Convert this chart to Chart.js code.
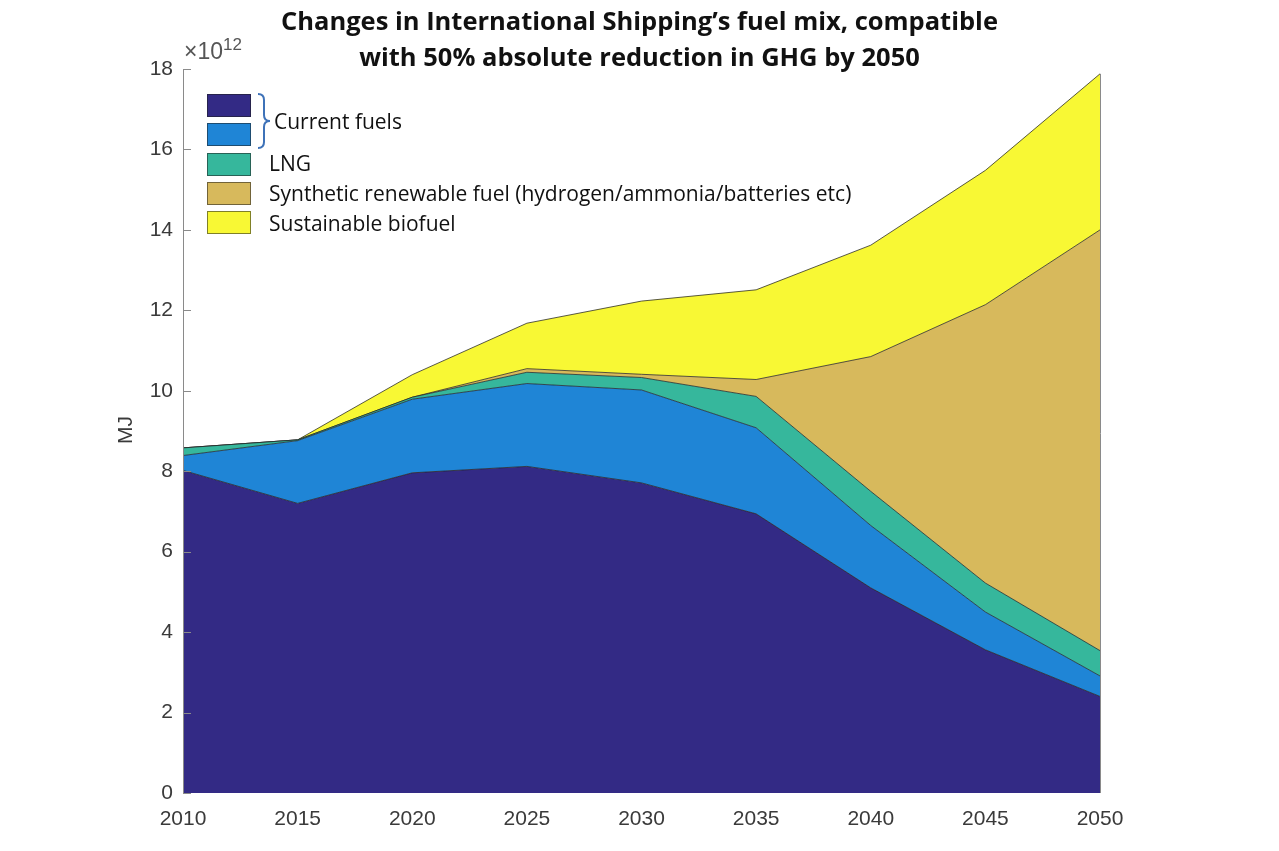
<!DOCTYPE html>
<html lang="en">
<head>
    <meta charset="UTF-8">
    <title>International Shipping fuel mix</title>
    <script src="https://cdn.jsdelivr.net/npm/chart.js"></script>
    <style>
        body {
            margin: 0;
            background: #fff;
        }

        .wrap {
            position: relative;
            width: 1279px;
            height: 851px;
        }

        .title {
            position: absolute;
            left: 0;
            top: 2px;
            width: 1279px;
            text-align: center;
            font-family: "Open Sans", sans-serif;
            font-weight: bold;
            font-size: 25.5px;
            line-height: 36px;
            color: #111;
        }

        .exp {
            position: absolute;
            left: 184px;
            top: 35px;
            font-family: "Liberation Sans", sans-serif;
            font-size: 23px;
            color: #555;
        }

        .exp sup {
            font-size: 17px;
        }

        .ylab {
            position: absolute;
            left: 105px;
            top: 418px;
            width: 40px;
            text-align: center;
            transform: rotate(-90deg);
            font-family: "Liberation Sans", sans-serif;
            font-size: 21px;
            color: #3a3a3a;
        }

        .legend .sw {
            position: absolute;
            left: 207px;
            width: 44px;
            height: 23px;
            border: 1px solid rgba(30, 30, 30, 0.55);
            box-sizing: border-box;
        }

        .legend .lb {
            position: absolute;
            font-family: "Open Sans", sans-serif;
            font-size: 21px;
            color: #111;
            line-height: 24px;
        }

        .bracket {
            position: absolute;
            left: 256px;
            top: 92px;
        }
    </style>
</head>
<body>
<div class="wrap">
    <canvas id="fuelChart" width="1279" height="851"></canvas>

    <div class="title">Changes in International Shipping’s fuel mix, compatible<br>with 50% absolute reduction in GHG by 2050</div>
    <div class="exp">×10<sup>12</sup></div>
    <div class="ylab">MJ</div>

    <div class="legend">
        <div class="sw" style="top:94px;background:#332a85"></div>
        <div class="sw" style="top:123px;background:#1f85d6"></div>
        <div class="sw" style="top:153px;background:#36b79c"></div>
        <div class="sw" style="top:182px;background:#d7b95c"></div>
        <div class="sw" style="top:211px;background:#f8f834"></div>

        <svg class="bracket" width="20" height="58">
            <path d="M2 2 Q8 2 8 8 L8 23 Q8 29 14 29 Q8 29 8 35 L8 50 Q8 56 2 56" fill="none" stroke="#3e72b8" stroke-width="2"/>
        </svg>
        <div class="lb" style="left:274px;top:109px">Current fuels</div>
        <div class="lb" style="left:269px;top:151px">LNG</div>
        <div class="lb" style="left:269px;top:181px">Synthetic renewable fuel (hydrogen/ammonia/batteries etc)</div>
        <div class="lb" style="left:269px;top:211px">Sustainable biofuel</div>
    </div>
</div>

<script>
    // years on the x axis
    var years = ['2010', '2015', '2020', '2025', '2030', '2035', '2040', '2045', '2050'];

    // MJ (x10^12), stacked from the bottom
    var currentFuelsA = [8.02, 7.2, 7.96, 8.12, 7.71, 6.94, 5.1, 3.56, 2.4];
    var currentFuelsB = [0.37, 1.56, 1.83, 2.06, 2.31, 2.14, 1.55, 0.94, 0.51];
    var lng = [0.19, 0.02, 0.05, 0.28, 0.31, 0.78, 0.85, 0.72, 0.63];
    var synthetic = [0, 0, 0, 0.09, 0.08, 0.42, 3.35, 6.92, 10.46];
    var biofuel = [0, 0, 0.56, 1.13, 1.82, 2.23, 2.77, 3.34, 3.88];

    var yTicks = [0, 2, 4, 6, 8, 10, 12, 14, 16, 18];

    var edge = 'rgba(35, 35, 35, 0.75)';

    function layer(label, data, color, fill) {
        return {
            label: label,
            data: data,
            backgroundColor: color,
            borderColor: edge,
            borderWidth: 1,
            pointRadius: 0,
            tension: 0,
            fill: fill
        };
    }

    // y axis line with inward ticks, like the original
    var axisPlugin = {
        id: 'axisLines',
        afterDatasetsDraw: function (chart) {
            var ctx = chart.ctx;
            var y = chart.scales.y;
            var x = chart.scales.x;
            var left = chart.chartArea.left;
            ctx.save();
            ctx.strokeStyle = '#8a8a8a';
            ctx.lineWidth = 1;
            ctx.beginPath();
            ctx.moveTo(left + 0.5, y.getPixelForValue(18));
            ctx.lineTo(left + 0.5, y.getPixelForValue(0));
            yTicks.forEach(function (t) {
                var py = Math.round(y.getPixelForValue(t)) + 0.5;
                ctx.moveTo(left, py);
                ctx.lineTo(left + 8, py);
            });
            // right edge of the stacked areas
            var xr = Math.round(x.getPixelForValue(years.length - 1)) + 0.5;
            var total = 0;
            [currentFuelsA, currentFuelsB, lng, synthetic, biofuel].forEach(function (s) {
                total += s[s.length - 1];
            });
            ctx.moveTo(xr, y.getPixelForValue(total));
            ctx.lineTo(xr, y.getPixelForValue(0));
            ctx.stroke();
            ctx.restore();
        }
    };

    var ctx = document.getElementById('fuelChart').getContext('2d');
    var fuelChart = new Chart(ctx, {
        type: 'line',
        data: {
            labels: years,
            datasets: [
                layer('Current fuels', currentFuelsA, '#332a85', 'origin'),
                layer('Current fuels ', currentFuelsB, '#1f85d6', '-1'),
                layer('LNG', lng, '#36b79c', '-1'),
                layer('Synthetic renewable fuel (hydrogen/ammonia/batteries etc)', synthetic, '#d7b95c', '-1'),
                layer('Sustainable biofuel', biofuel, '#f8f834', '-1')
            ]
        },
        options: {
            responsive: false,
            animation: false,
            layout: {
                padding: { top: 69, right: 179, left: 0, bottom: 0 }
            },
            plugins: {
                legend: { display: false },
                tooltip: { enabled: false },
                title: { display: false }
            },
            scales: {
                x: {
                    offset: false,
                    grid: { display: false, drawTicks: false },
                    border: { display: false },
                    ticks: {
                        color: '#3a3a3a',
                        padding: 14,
                        maxRotation: 0,
                        font: { family: 'Liberation Sans', size: 21 }
                    },
                    afterFit: function (scale) { scale.height = 58; }
                },
                y: {
                    stacked: true,
                    min: 0,
                    max: 18,
                    afterBuildTicks: function (scale) {
                        scale.ticks = yTicks.map(function (v) { return { value: v }; });
                    },
                    grid: { display: false, drawTicks: false },
                    border: { display: false },
                    ticks: {
                        color: '#3a3a3a',
                        padding: 10,
                        font: { family: 'Liberation Sans', size: 21 }
                    },
                    afterFit: function (scale) { scale.width = 183; }
                }
            }
        },
        plugins: [axisPlugin]
    });
</script>
</body>
</html>
